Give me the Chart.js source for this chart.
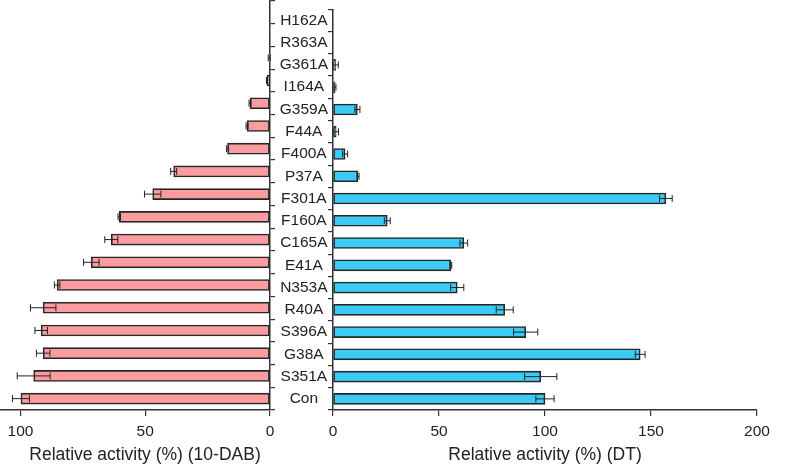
<!DOCTYPE html>
<html>
<head>
<meta charset="utf-8">
<script src="https://cdn.jsdelivr.net/npm/chart.js@4/dist/chart.umd.min.js"></script>
<style>
  html, body { margin: 0; padding: 0; background: #fff; }
  #wrap { position: relative; width: 788px; height: 466px; }
  #left { position: absolute; left: 0; top: 0; }
  #right { position: absolute; left: 270px; top: 0; }
</style>
</head>
<body>
<div id="wrap">
  <canvas id="left" width="275" height="466"></canvas>
  <canvas id="right" width="518" height="466"></canvas>
</div>
<script>
// mutants, top to bottom
const labels = ['H162A', 'R363A', 'G361A', 'I164A', 'G359A', 'F44A', 'F400A', 'P37A', 'F301A',
                'F160A', 'C165A', 'E41A', 'N353A', 'R40A', 'S396A', 'G38A', 'S351A', 'Con'];

// relative activity (%) toward 10-DAB
const dabValues = [0, 0, 0.3, 1.2, 8, 9.2, 17, 38.6, 47, 60.4, 63.6, 71.6, 85.3, 90.9, 91.7, 90.9, 94.7, 99.8];
const dabErrors = [0, 0, 0.4, 0.2, 0.4, 0.4, 0.4, 1.2, 3.3, 0.5, 2.6, 3.1, 1.1, 5.1, 2.5, 2.7, 6.6, 3.4];

// relative activity (%) toward DT
const dtValues = [0, 0, 1.2, 1, 11.5, 1.5, 5.7, 11.8, 157, 25.6, 61.7, 55.6, 58.6, 81, 90.9, 144.9, 98, 100];
const dtErrors = [0, 0, 1.3, 0.4, 1.2, 1.1, 1.2, 0.5, 3, 1.4, 1.8, 0.4, 3.1, 4, 5.7, 2.3, 7.6, 4.3];

const dabTicks = [0, 50, 100];
const dtTicks = [0, 50, 100, 150, 200];

const FONT = 'Liberation Sans, Arial, Helvetica, sans-serif';
const INK = '#222';
const AXIS = '#333';

// error bars drawn over the bars
const errorBars = {
  id: 'errorBars',
  afterDatasetsDraw(chart) {
    const ctx = chart.ctx;
    const xs = chart.scales.x;
    const ds = chart.data.datasets[0];
    const meta = chart.getDatasetMeta(0);
    ctx.save();
    ctx.strokeStyle = '#222';
    ctx.lineWidth = 1;
    ds.data.forEach((v, i) => {
      const e = ds.errors[i];
      if (!e) return;
      const y = meta.data[i].y;
      const a = xs.getPixelForValue(v - e);
      const b = xs.getPixelForValue(v + e);
      ctx.beginPath();
      ctx.moveTo(a, y); ctx.lineTo(b, y);
      ctx.moveTo(a, y - 3.5); ctx.lineTo(a, y + 3.5);
      ctx.moveTo(b, y - 3.5); ctx.lineTo(b, y + 3.5);
      ctx.stroke();
    });
    ctx.restore();
  }
};

// axis title under the x scale (the left one sits a little right of centre)
const axisTitle = {
  id: 'axisTitle',
  afterDraw(chart, args, opts) {
    const xs = chart.scales.x;
    const ctx = chart.ctx;
    ctx.save();
    ctx.font = '17.5px ' + FONT;
    ctx.fillStyle = INK;
    ctx.textAlign = 'center';
    ctx.textBaseline = 'middle';
    ctx.fillText(opts.text, (xs.left + xs.right) / 2 + opts.dx, xs.bottom - 11);
    ctx.restore();
  }
};

function xAxis(max, ticks, reverse) {
  return {
    type: 'linear',
    min: 0,
    max: max,
    reverse: reverse,
    afterBuildTicks: s => { s.ticks = ticks.map(v => ({ value: v })); },
    afterFit: s => { s.height = 56; },
    grid: { display: true, drawOnChartArea: false, drawTicks: true, tickLength: 6, color: AXIS, lineWidth: 1.2 },
    border: { display: true, color: AXIS, width: 1.5 },
    ticks: { color: INK, font: { family: FONT, size: 15.5 }, padding: 6, maxRotation: 0 }
  };
}

function yAxis(position, width, showLabels) {
  return {
    type: 'category',
    position: position,
    offset: true,
    afterFit: s => { s.width = width; },
    grid: { display: true, offset: true, drawOnChartArea: false, drawTicks: true, tickLength: 5, color: AXIS, lineWidth: 1.2 },
    border: { display: true, color: AXIS, width: 1.5 },
    ticks: { display: showLabels, color: INK, font: { family: FONT, size: 15.5 }, padding: 0, crossAlign: 'center', autoSkip: false }
  };
}

function barChart(id, values, errors, fill, xMax, ticks, title, dx, reverse, yPos, yWidth, showLabels, pad) {
  return new Chart(document.getElementById(id), {
    type: 'bar',
    data: {
      labels: labels,
      datasets: [{
        data: values,
        errors: errors,
        backgroundColor: fill,
        borderColor: '#262626',
        borderWidth: 1.6,
        borderSkipped: false,
        barThickness: 11
      }]
    },
    options: {
      indexAxis: 'y',
      responsive: false,
      animation: false,
      layout: { padding: pad },
      plugins: {
        legend: { display: false },
        tooltip: { enabled: false },
        axisTitle: { text: title, dx: dx }
      },
      scales: {
        x: xAxis(xMax, ticks, reverse),
        y: yAxis(yPos, yWidth, showLabels)
      }
    },
    plugins: [errorBars, axisTitle]
  });
}

barChart('left', dabValues, dabErrors, '#fb9da0', 108.2, dabTicks,
  'Relative activity (%) (10-DAB)', 10, true, 'right', 5, false, { top: 1, right: 0, left: 0, bottom: 0 });

barChart('right', dtValues, dtErrors, '#3ccbf4', 200, dtTicks,
  'Relative activity (%) (DT)', 0, false, 'left', 63, true, { top: 1, right: 31, left: 0, bottom: 0 });
</script>
</body>
</html>
